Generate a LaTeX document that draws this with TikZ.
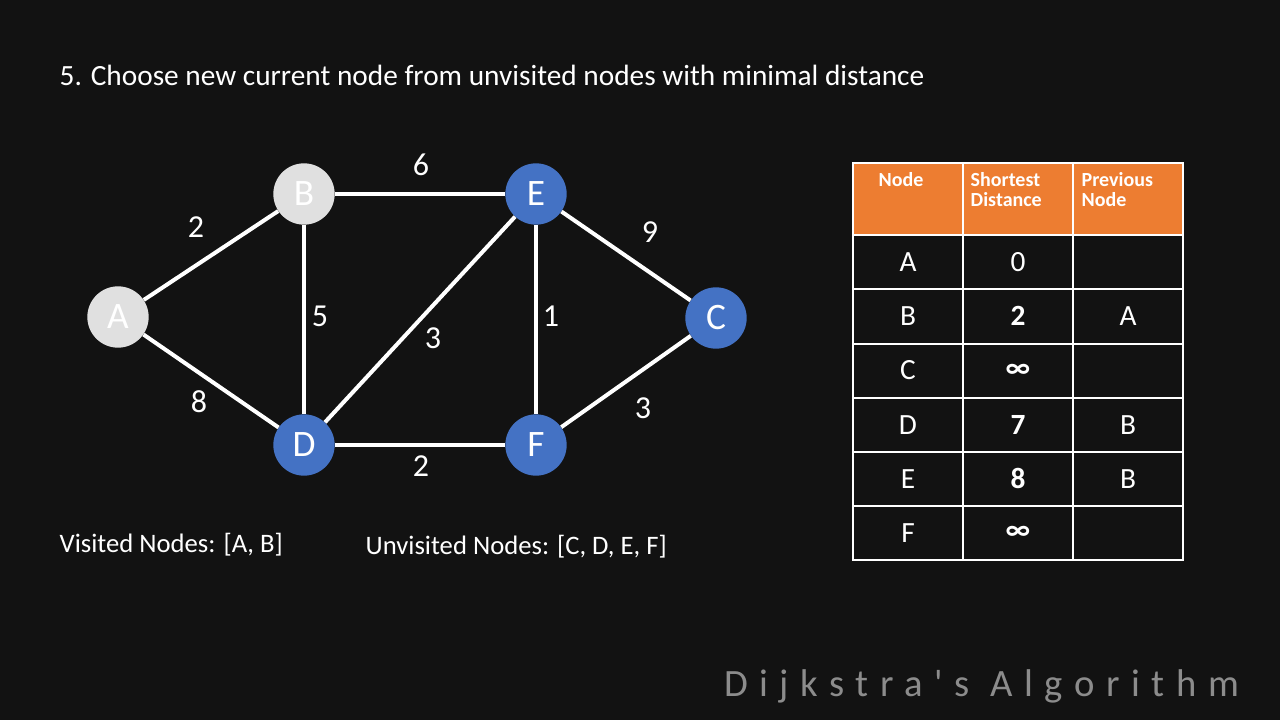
\documentclass[tikz,border=0pt]{standalone}
\usepackage{fontspec}
\setmainfont{Carlito}
\newfontfamily\spaced[LetterSpace=30]{Carlito}
\begin{document}
\begin{tikzpicture}[x=0.75pt,y=-0.75pt,
  vert/.style={circle,minimum size=46pt,inner sep=0pt,font=\fontsize{28}{30}\selectfont,text=white},
  visited/.style={vert,fill=black!12,text=white},
  unvis/.style={vert,fill=blueN},
  edge/.style={draw=white,line width=3pt},
  wt/.style={text=white,font=\fontsize{24}{26}\selectfont},
  cell/.style={text=white,font=\fontsize{22}{24}\selectfont},
  hdr/.style={text=white,font=\fontsize{15}{17}\selectfont\bfseries,align=left,anchor=north west}]
\definecolor{blueN}{HTML}{4472C4}
\definecolor{orangeH}{HTML}{ED7D31}
\fill[black!93] (0,0) rectangle (1280,720);
\useasboundingbox (0,0) rectangle (1280,720);
\node[anchor=west,text=white,font=\fontsize{22}{24}\selectfont] (title) at (55,75) {5. Choose new current node from unvisited nodes with minimal distance};
\node[visited] (A) at (118,317) {A};
\node[visited] (B) at (304,194) {B};
\node[unvis] (E) at (536,194) {E};
\node[unvis] (C) at (716,318) {C};
\node[unvis] (D) at (304,445) {D};
\node[unvis] (F) at (536,445) {F};
\begin{scope}[on background layer/.style={}]
\end{scope}
\draw[edge] (A) -- (B);
\draw[edge] (A) -- (D);
\draw[edge] (B) -- (E);
\draw[edge] (B) -- (D);
\draw[edge] (D) -- (E);
\draw[edge] (E) -- (F);
\draw[edge] (E) -- (C);
\draw[edge] (D) -- (F);
\draw[edge] (F) -- (C);
\node[wt] (w1) at (196,227) {2};
\node[wt] (w2) at (421,165) {6};
\node[wt] (w3) at (650,232) {9};
\node[wt] (w4) at (320,316) {5};
\node[wt] (w5) at (433,338) {3};
\node[wt] (w6) at (551,316) {1};
\node[wt] (w7) at (199,402) {8};
\node[wt] (w8) at (421,466) {2};
\node[wt] (w9) at (643,408) {3};
\node[anchor=west,text=white,font=\fontsize{20}{22}\selectfont] (vis) at (55,545) {Visited Nodes: [A, B]};
\node[anchor=west,text=white,font=\fontsize{20}{22}\selectfont] (unv) at (361,547) {Unvisited Nodes: [C, D, E, F]};
\node[anchor=east,text=black!45,font=\fontsize{29}{31}\selectfont\spaced] (brand) at (1244,686) {Dijkstra's Algorithm};
% table
\fill[orangeH] (853,163) rectangle (1183,235);
\draw[white,line width=1pt] (853,163) rectangle (1183,560);
\foreach \y in {289,344,398,452,506} \draw[white,line width=1pt] (853,\y) -- (1183,\y);
\draw[white,line width=2.2pt] (853,235) -- (1183,235);
\foreach \x in {963,1073} \draw[white,line width=1pt] (\x,163) -- (\x,560);
\node[hdr] (h1) at (874,168) {Node};
\node[hdr] (h2) at (966,168) {Shortest\\[-2pt]Distance};
\node[hdr] (h3) at (1077,168) {Previous\\[-2pt]Node};
\foreach \n/\d/\p [count=\i] in {A/0/, B/\textbf{2}/A, C/\textbf{∞}/, D/\textbf{7}/B, E/\textbf{8}/B, F/\textbf{∞}/}{
  \node[cell] at (908,{235+54.2*(\i-0.5)}) {\n};
  \node[cell] at (1018,{235+54.2*(\i-0.5)}) {\d};
  \node[cell] at (1128,{235+54.2*(\i-0.5)}) {\p};
}
\end{tikzpicture}
\end{document}
